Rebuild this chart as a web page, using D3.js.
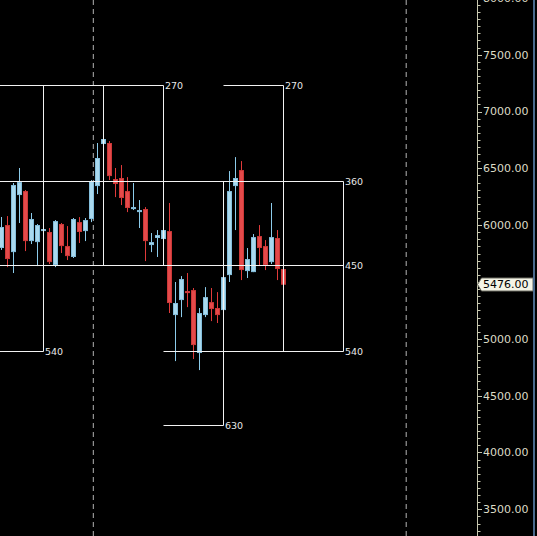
<!DOCTYPE html>
<html><head><meta charset="utf-8">
<script src="https://cdn.jsdelivr.net/npm/d3@7"></script>
<style>html,body{margin:0;padding:0;background:#000;overflow:hidden}</style>
</head><body><svg id="c" width="537" height="536"></svg>
<script>
// ---- data (weekly candles, price) ----
const opens  = [5799,6001,5763,6265,6300,5860,5851,5948,5940,5649,6010,5816,5720,6027,5948,6054,6344,6714,6723,6406,6415,6300,6142,6115,6142,5825,5887,5878,5948,5209,5341,5420,5429,4875,5209,5323,5271,5253,5561,6344,6485,5596,5587,5904,5816,5675,5887,5614];
const highs  = [6072,6080,6371,6503,6309,6107,6010,5975,5975,6045,6019,5992,6063,6071,6063,6397,6723,6767,6740,6503,6529,6423,6371,6221,6159,5931,5957,5957,6195,5500,5552,5579,5447,5271,5455,5447,5411,5543,6476,6599,6564,5799,5922,6001,5869,6195,5957,5614];
const lows   = [5782,5631,5579,6019,5772,5834,5640,5940,5658,5631,5755,5693,5711,5843,5860,6027,6274,6705,6397,6247,6177,6115,6133,5975,5684,5763,5720,5878,5227,4804,5191,5279,4822,4725,5191,5156,5139,5253,5500,5957,5517,5535,5587,5640,5605,5658,5517,5476];
const closes = [5984,5702,6353,6379,5860,6054,6001,5966,5675,6036,5816,5728,6054,5940,6045,6388,6591,6758,6432,6362,6239,6151,6159,6133,5860,5851,5913,5957,5315,5315,5526,5403,4945,5227,5367,5262,5209,5543,6300,6415,5605,5702,5895,5799,5649,5895,5614,5476];

const yearBreaks = [15.3, 67.45];           // bar-index positions of year separators
const priceTicks = [3500,4000,4500,5000,5500,6000,6500,7000,7500,8000];
const tickLabels = [3500,4000,4500,5000,6000,6500,7000,7500,8000]; // 5500 hidden under last-price marker
const minorStep = 62.5;

// Gann grid levels and degree labels
const gannLevels = [7229, 6386, 5641, 4890, 4239];
const gannLabels = ["270","360","450","540","630"];
// horizontal segments: level index, start bar, end bar (-1 = from left edge)
const hLevel = [0, 0, 1, 2, 3, 3, 4];
const hStart = [-1, 37, -1, -1, -1, 27, 27];
const hEnd   = [27, 47, 57, 57, 7, 57, 37];
// vertical segments: bar index, top level index, bottom level index
const vBar    = [7, 17, 27, 37, 47, 57];
const vTop    = [0, 0, 0, 1, 0, 1];
const vBottom = [3, 2, 2, 4, 3, 3];

// ---- drawing ----
const W = 537, H = 536, axisX = 477;
const svg = d3.select("#c");
svg.append("rect").attr("width", W).attr("height", H).attr("fill", "#000");

const x = d3.scaleLinear().domain([-0.25, 79.25]).range([0, axisX]);
const y = d3.scaleLinear().domain([7500, 3500]).range([54.7, 509.3]);
const yMin = y.invert(H), yMax = y.invert(0);

const plot = svg.append("g");
plot.append("clipPath").attr("id", "pc").append("rect").attr("width", axisX).attr("height", H);
const pg = plot.append("g").attr("clip-path", "url(#pc)");

// year separators
pg.selectAll("line.yb").data(yearBreaks).join("line")
  .attr("x1", d => x(d)).attr("x2", d => x(d)).attr("y1", 0).attr("y2", H)
  .attr("stroke", "#b4b4b4").attr("stroke-width", 1).attr("stroke-dasharray", "5,4");

// candles
const idx = d3.range(opens.length);
const up = i => closes[i] >= opens[i];
pg.selectAll("line.wick").data(idx).join("line")
  .attr("x1", i => x(i)).attr("x2", i => x(i))
  .attr("y1", i => y(highs[i])).attr("y2", i => y(lows[i]))
  .attr("stroke", i => up(i) ? "#8ccbea" : "#e03a3a").attr("stroke-width", 1);
pg.selectAll("rect.body").data(idx).join("rect")
  .attr("x", i => x(i) - 2.5 + 0.5).attr("width", 4)
  .attr("y", i => y(Math.max(opens[i], closes[i])) + 0.5)
  .attr("height", i => Math.max(1, y(Math.min(opens[i], closes[i])) - y(Math.max(opens[i], closes[i])) - 1))
  .attr("fill", i => up(i) ? "#aad9ee" : "#e44a4a")
  .attr("stroke", i => up(i) ? "#84bedc" : "#cc3838").attr("stroke-width", 1);

// gann grid
const gx = b => b < 0 ? 0 : Math.round(x(b) - 0.5) + 0.5;
const gy = l => Math.round(y(gannLevels[l]) - 0.5) + 0.5;
const hIdx = d3.range(hLevel.length);
pg.selectAll("line.gh").data(hIdx).join("line")
  .attr("x1", k => gx(hStart[k])).attr("x2", k => gx(hEnd[k]))
  .attr("y1", k => gy(hLevel[k])).attr("y2", k => gy(hLevel[k]))
  .attr("stroke", "#f2f2f2").attr("stroke-width", 1);
const vIdx = d3.range(vBar.length);
pg.selectAll("line.gv").data(vIdx).join("line")
  .attr("x1", k => gx(vBar[k])).attr("x2", k => gx(vBar[k]))
  .attr("y1", k => gy(vTop[k])).attr("y2", k => gy(vBottom[k]))
  .attr("stroke", "#f2f2f2").attr("stroke-width", 1);
pg.selectAll("text.gl").data(hIdx).join("text")
  .attr("x", k => gx(hEnd[k]) + 1.5).attr("y", k => gy(hLevel[k]))
  .attr("dy", "0.36em")
  .attr("fill", "#e8e8e8").attr("font-family", "DejaVu Sans, sans-serif").attr("font-size", 9.5)
  .text(k => gannLabels[hLevel[k]]);

// price axis
const ax = svg.append("g");
ax.append("line").attr("x1", axisX + 0.5).attr("x2", axisX + 0.5).attr("y1", 0).attr("y2", H)
  .attr("stroke", "#c8c8b0");
const minors = d3.range(Math.ceil(yMin / minorStep) * minorStep, yMax, minorStep);
ax.selectAll("line.mt").data(minors).join("line")
  .attr("x1", axisX).attr("x2", axisX + 3.5)
  .attr("y1", d => Math.round(y(d)) + 0.5).attr("y2", d => Math.round(y(d)) + 0.5)
  .attr("stroke", "#c8c8b0");
ax.selectAll("line.Mt").data(priceTicks).join("line")
  .attr("x1", axisX).attr("x2", axisX + 5)
  .attr("y1", d => Math.round(y(d)) + 0.5).attr("y2", d => Math.round(y(d)) + 0.5)
  .attr("stroke", "#c8c8b0");
ax.selectAll("text.tl").data(tickLabels).join("text")
  .attr("x", axisX + 6).attr("y", d => y(d)).attr("dy", "0.36em")
  .attr("fill", "#dcdcc6").attr("font-family", "DejaVu Sans, sans-serif").attr("font-size", 11)
  .text(d => d3.format(".2f")(d));

// last price marker
const last = closes[closes.length - 1];
const ly = Math.round(y(last)) - 0.5;
const lab = svg.append("g");
lab.append("path")
  .attr("d", `M${axisX + 0.5},${ly} L${axisX + 4.5},${ly - 6.5} L533,${ly - 6.5} L533,${ly + 6.5} L${axisX + 4.5},${ly + 6.5} Z`)
  .attr("fill", "#f4f4e6").attr("stroke", "#6a6a60").attr("stroke-width", 1);
lab.append("text").attr("x", axisX + 6).attr("y", ly).attr("dy", "0.36em")
  .attr("fill", "#000").attr("font-family", "DejaVu Sans, sans-serif").attr("font-size", 11)
  .text(d3.format(".2f")(last));

// right border
svg.append("rect").attr("x", 533).attr("y", 0).attr("width", 2).attr("height", H).attr("fill", "#4a6a8c");
</script></body></html>
